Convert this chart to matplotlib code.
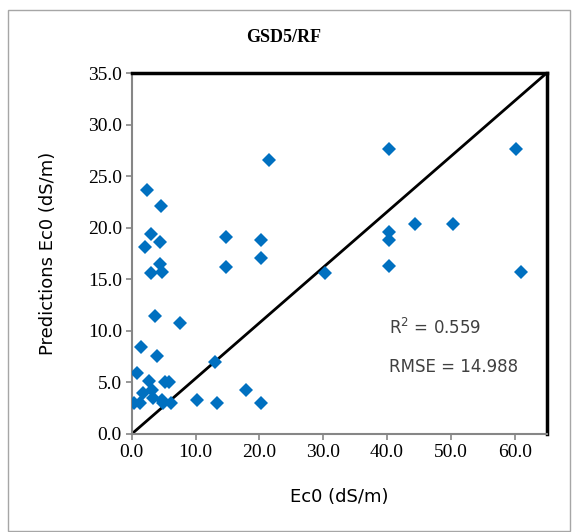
import numpy as np
import matplotlib
matplotlib.use("Agg")
import matplotlib.pyplot as plt
from matplotlib.patches import Rectangle

# measured Ec0 vs predicted Ec0 (dS/m)
measured = [60.2, 40.3, 21.5, 2.4, 4.6, 3.1, 2.1, 4.4, 14.7, 20.2,
            4.4, 3.0, 4.7, 14.7, 20.2, 30.2, 40.3, 40.3, 40.3, 44.3,
            50.3, 60.9, 3.6, 7.6, 1.5, 4.0, 13.0, 0.9, 2.7, 5.2,
            5.8, 17.9, 1.7, 3.2, 0.4, 1.3, 3.4, 4.7, 4.9, 6.1,
            10.2, 13.3, 20.2]
predicted = [27.6, 27.6, 26.6, 23.7, 22.1, 19.4, 18.1, 18.6, 19.1, 18.8,
             16.5, 15.6, 15.7, 16.2, 17.1, 15.6, 19.6, 18.8, 16.3, 20.4,
             20.4, 15.7, 11.4, 10.8, 8.4, 7.6, 7.0, 5.9, 5.1, 5.0,
             5.0, 4.3, 4.0, 4.3, 3.0, 3.0, 3.5, 3.3, 3.0, 3.0,
             3.3, 3.0, 3.0]
r2_text = "R$^2$ = 0.559"
rmse_text = "RMSE = 14.988"

W, H = 579, 532
fig = plt.figure(figsize=(W / 100, H / 100), dpi=100)
fig.patches.append(Rectangle((8 / W, 1 / H), 562 / W, 521 / H,
                             transform=fig.transFigure, fill=False,
                             edgecolor="#a6a6a6", lw=1.0))

ax = fig.add_axes([131.7 / W, 1 - 434 / H, 415 / W, 361 / H])
ax.plot([0, 65], [0, 35], color="black", lw=2, zorder=2)
ax.plot(measured, predicted, linestyle="none", marker="D", markersize=7,
        color="#0070C0", markeredgewidth=0, zorder=3)

ax.set_xlim(0, 65)
ax.set_ylim(0, 35)
ax.set_xticks(np.arange(0, 61, 10))
ax.set_yticks(np.arange(0, 36, 5))
ax.set_xticklabels(["%.1f" % v for v in np.arange(0, 61, 10)],
                   family="Liberation Serif", fontsize=14)
ax.set_yticklabels(["%.1f" % v for v in np.arange(0, 36, 5)],
                   family="Liberation Serif", fontsize=14)
ax.tick_params(direction="out", length=4, width=1.2, color="#868686", pad=3,
               top=False, right=False)

for side in ["left", "bottom"]:
    ax.spines[side].set_color("#868686")
    ax.spines[side].set_linewidth(1.5)
for side in ["top", "right"]:
    ax.spines[side].set_color("black")
    ax.spines[side].set_linewidth(2.5)

ax.set_xlabel("Ec0 (dS/m)", family="DejaVu Sans", fontsize=13, labelpad=20)
ax.set_ylabel("Predictions Ec0 (dS/m)", family="DejaVu Sans", fontsize=13,
              labelpad=22)

ax.text(40.3, 10.3, r2_text, family="DejaVu Sans", fontsize=12,
        va="center", ha="left", color="#404040")
ax.text(40.3, 6.5, rmse_text, family="DejaVu Sans", fontsize=12,
        va="center", ha="left", color="#404040")

fig.text(284 / W, 1 - 38 / H, "GSD5/RF", family="Liberation Serif",
         fontweight="bold", fontsize=13, ha="center", va="center")

fig.savefig("out.png", dpi=100)
